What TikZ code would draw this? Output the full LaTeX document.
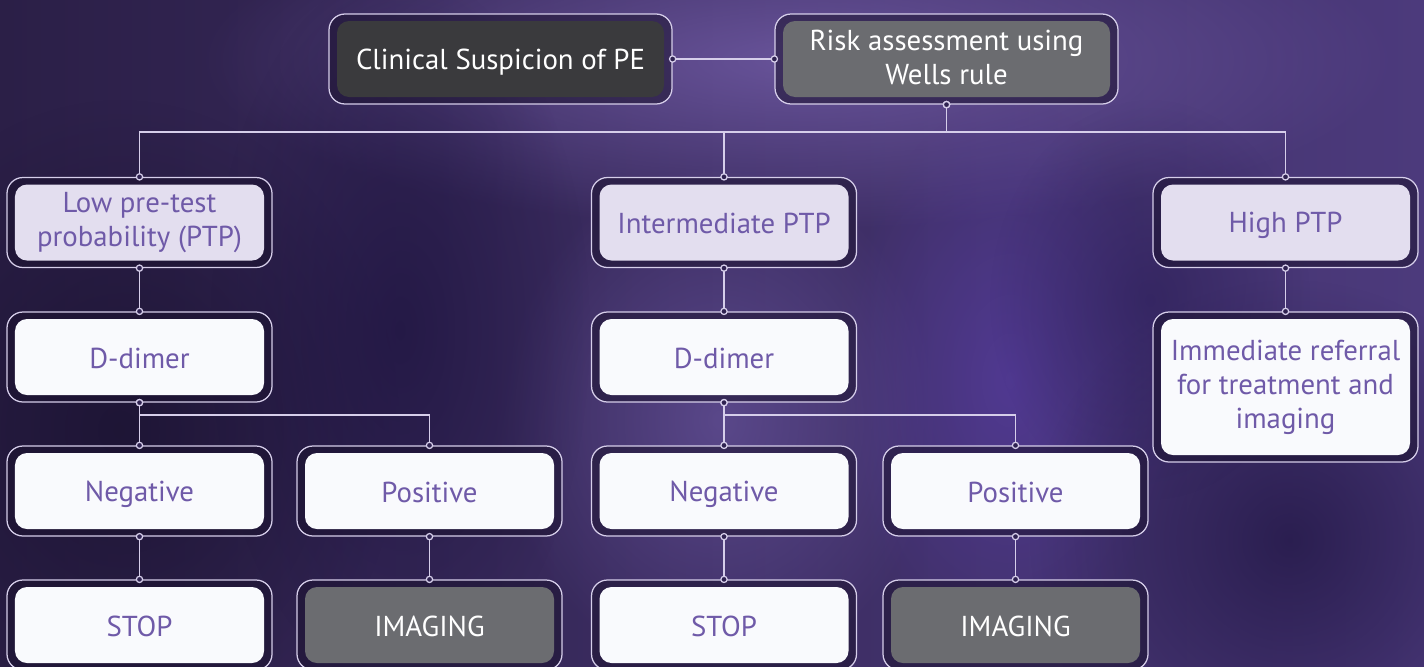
\documentclass[tikz,border=0pt]{standalone}
\usepackage{fontspec}
\setsansfont{PT Sans}
\usetikzlibrary{arrows.meta, fadings}

\definecolor{ring}{HTML}{D6CEEA}
\definecolor{band}{HTML}{1C1330}
\definecolor{dot}{HTML}{2E2250}
\definecolor{ink}{HTML}{6F5AA8}
\definecolor{dark}{HTML}{3A3A3D}
\definecolor{grey}{HTML}{6B6C70}
\definecolor{lav}{HTML}{E3DEEF}
\definecolor{paper}{HTML}{F9FAFD}
\definecolor{bgleft}{HTML}{2B1F47}
\definecolor{bgmid}{HTML}{5C4894}
\definecolor{bgright}{HTML}{4C3A7C}
\definecolor{glowA}{HTML}{7A63B0}
\definecolor{glowB}{HTML}{6E5AA5}
\definecolor{glowC}{HTML}{5A3EAA}
\definecolor{shadeA}{HTML}{1A1230}
\definecolor{shadeB}{HTML}{1E1440}
\definecolor{shadeC}{HTML}{241850}

\tikzfading[name=blob, inner color=transparent!0, outer color=transparent!100]
\newcommand{\cardstrut}{\rule[-2pt]{0pt}{17pt}}

\begin{document}
\begin{tikzpicture}[x=0.2mm, y=-0.2mm]

    \tikzset{card/.style={rectangle, rounded corners=3.2mm, draw=ring, line width=0.25mm, fill=band, fill opacity=0.55, text opacity=1, minimum width=53mm, minimum height=18mm, align=center, text=ink, font=\sffamily\fontsize{16.4}{19.3}\selectfont, execute at begin node=\cardstrut, execute at end node=\cardstrut, path picture={\fill[#1, fill opacity=1, rounded corners=2.4mm] ([shift={(1.6mm,-1.4mm)}]path picture bounding box.north west) rectangle ([shift={(-1.6mm,1.4mm)}]path picture bounding box.south east);}}}
    \tikzstyle{link} = [draw=ring, line width=0.25mm, {Circle[length=1.5mm, line width=0.25mm, fill=dot]}-{Circle[length=1.5mm, line width=0.25mm, fill=dot]}, shorten <=-0.75mm, shorten >=-0.75mm]

    % background
    \useasboundingbox (0,0) rectangle (1424,666);
    \clip (0,0) rectangle (1424,666);
    \shade[left color=bgleft, middle color=bgmid, right color=bgright] (0,0) rectangle (1424,666);
    \fill[glowA, path fading=blob, opacity=0.7] (800,60) ellipse (600 and 170);
    \fill[glowB, path fading=blob, opacity=0.6] (720,420) ellipse (220 and 260);
    \fill[glowC, path fading=blob, opacity=0.6] (1010,380) ellipse (170 and 280);
    \fill[shadeA, path fading=blob, opacity=0.8] (120,430) ellipse (280 and 330);
    \fill[shadeB, path fading=blob, opacity=0.7] (400,330) ellipse (190 and 360);
    \fill[shadeB, path fading=blob, opacity=0.7] (1290,540) ellipse (260 and 260);
    \fill[shadeC, path fading=blob, opacity=0.5] (1150,300) ellipse (160 and 200);

    % boxes
    \node (susp) [card=dark, text=white, minimum width=68.6mm] at (500.5,59) {Clinical Suspicion of PE};
    \node (risk) [card=grey, text=white, minimum width=68.6mm] at (946.5,59) {Risk assessment using\\Wells rule};

    \node (low) [card=lav] at (139.5,222.5) {Low pre-test\\probability (PTP)};
    \node (mid) [card=lav] at (724,222.5) {Intermediate PTP};
    \node (high) [card=lav] at (1285.5,222.5) {High PTP};

    \node (dd1) [card=paper] at (139.5,357) {D-dimer};
    \node (dd2) [card=paper] at (724,357) {D-dimer};
    \node (refer) [card=paper, minimum height=30mm] at (1285.5,387) {Immediate referral\\for treatment and\\imaging};

    \node (neg1) [card=paper] at (139.5,491) {Negative};
    \node (pos1) [card=paper] at (429.5,491) {Positive};
    \node (neg2) [card=paper] at (724,491) {Negative};
    \node (pos2) [card=paper] at (1015.5,491) {Positive};

    \node (stop1) [card=paper] at (139.5,625) {STOP};
    \node (img1) [card=grey, text=white] at (429.5,625) {IMAGING};
    \node (stop2) [card=paper] at (724,625) {STOP};
    \node (img2) [card=grey, text=white] at (1015.5,625) {IMAGING};

    % connectors
    \coordinate (fork) at (946.5,132);
    \coordinate (split1) at (139.5,415);
    \coordinate (split2) at (724,415);

    \draw [link] (susp) -- (risk);
    \foreach \n in {low,mid,high}
        \draw [link] (risk.south) -- (fork) -| (\n.north);
    \draw [link] (low) -- (dd1);
    \draw [link] (mid) -- (dd2);
    \draw [link] (high) -- (refer);
    \draw [link] (dd1) -- (neg1);
    \draw [link] (dd1.south) -- (split1) -| (pos1.north);
    \draw [link] (dd2) -- (neg2);
    \draw [link] (dd2.south) -- (split2) -| (pos2.north);
    \draw [link] (neg1) -- (stop1);
    \draw [link] (pos1) -- (img1);
    \draw [link] (neg2) -- (stop2);
    \draw [link] (pos2) -- (img2);
\end{tikzpicture}
\end{document}
